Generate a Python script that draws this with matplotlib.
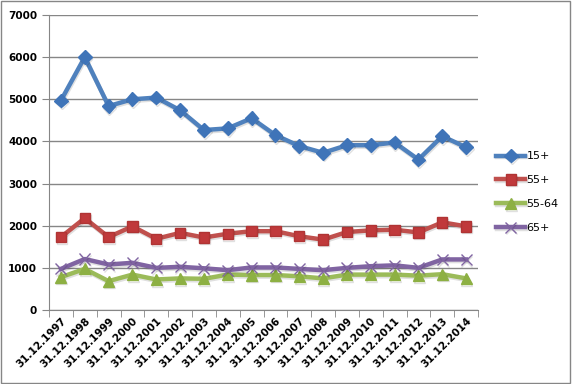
import numpy as np
import matplotlib
matplotlib.use('Agg')
from matplotlib import pyplot as plt
from matplotlib import patheffects as pe

years = list(range(1997, 2015))
labels = ['31.12.%d' % y for y in years]

s15 = [4970, 6000, 4840, 5000, 5040, 4740, 4270, 4310, 4550, 4150,
       3890, 3730, 3910, 3910, 3975, 3570, 4125, 3860]
s55 = [1730, 2180, 1730, 1985, 1690, 1830, 1720, 1810, 1870, 1870,
       1750, 1670, 1850, 1890, 1905, 1840, 2080, 1985]
s5564 = [780, 975, 685, 840, 725, 750, 740, 840, 830, 830,
         800, 750, 840, 840, 840, 815, 850, 750]
s65 = [975, 1210, 1080, 1120, 1000, 1025, 990, 945, 1010, 1010,
       975, 945, 1000, 1040, 1060, 1000, 1200, 1200]

names = ['15+', '55+', '55-64', '65+']

fig = plt.figure(figsize=(5.72, 3.84), dpi=100)
ax = fig.add_axes([49/572, 1-310/384, (478-49)/572, (310-15)/384])

x = np.arange(len(labels))
shadow = [pe.SimpleLineShadow(offset=(0.6, -1.2), alpha=0.12), pe.Normal()]

ax.plot(x, s15, color='#4F81BD', lw=3.2, marker='D', ms=7,
        mfc='#3F74B8', mec='#3F74B8', label=names[0], path_effects=shadow, zorder=5)
ax.plot(x, s55, color='#C0504D', lw=3.2, marker='s', ms=7.5,
        mfc='#C0393B', mec='#B03434', label=names[1], path_effects=shadow, zorder=4)
ax.plot(x, s5564, color='#9BBB59', lw=3.2, marker='^', ms=8,
        mfc='#8DB043', mec='#8DB043', label=names[2], path_effects=shadow, zorder=3)
ax.plot(x, s65, color='#8064A2', lw=3.2, marker='x', ms=8, mew=1.0,
        mec='#8064A2', label=names[3], path_effects=shadow, zorder=3)

ax.set_xlim(-0.5, len(labels) - 0.5)
ax.set_ylim(0, 7000)
ax.set_yticks(np.arange(0, 7001, 1000))
ax.yaxis.grid(True, color='#868686', lw=1)
ax.set_axisbelow(True)

ax.set_xticks(x)
ax.set_xticklabels(labels, rotation=45, ha='right', rotation_mode='anchor',
                   fontsize=7.5, fontweight='bold')
ax.tick_params(axis='x', length=0, pad=4)
ax.set_xticks(np.arange(-0.5, len(labels), 1), minor=True)
ax.tick_params(axis='x', which='minor', length=5, color='#868686')
ax.tick_params(axis='y', length=5, color='#868686', labelsize=7.5)
for t in ax.get_yticklabels():
    t.set_fontweight('bold')

for s in ['top', 'right']:
    ax.spines[s].set_visible(False)
for s in ['left', 'bottom']:
    ax.spines[s].set_color('#868686')

leg = fig.legend(loc='upper left', bbox_to_anchor=(492/572, 1-147/384),
                 frameon=False, fontsize=8, handlelength=2.6, labelspacing=1.25,
                 handletextpad=0.1, borderaxespad=0)

border = plt.Rectangle((0.002, 0.003), 0.995, 0.994, transform=fig.transFigure,
                       fill=False, ec='#868686', lw=1)
fig.patches.append(border)

fig.savefig('out.png', dpi=100)
